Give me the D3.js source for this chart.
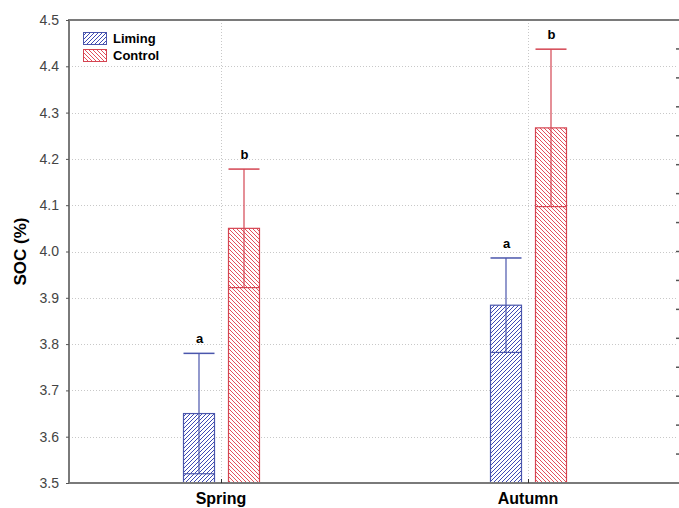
<!DOCTYPE html>
<html>
<head>
<meta charset="utf-8">
<script src="https://cdn.jsdelivr.net/npm/d3@7"></script>
<style>
  body { margin: 0; background: #fff; }
  svg { display: block; font-family: "Liberation Sans", Arial, sans-serif; }
</style>
</head>
<body>
<div id="chart"></div>
<script>
// ---------- data ----------
var seasons = ["Spring", "Autumn"];
var treatments = ["Liming", "Control"];
var means = { Liming: [3.65, 3.884], Control: [4.05, 4.267] };
var errors = { Liming: [0.13, 0.102], Control: [0.128, 0.17] };
var letters = { Liming: ["a", "a"], Control: ["b", "b"] };
var yTicks = [3.5, 3.6, 3.7, 3.8, 3.9, 4.0, 4.1, 4.2, 4.3, 4.4, 4.5];

var colors = { Liming: "#4a56ac", Control: "#d44552" };
var hatchColors = { Liming: "#3f4ab4", Control: "#e4505c" };

var width = 679, height = 508;
var plotLeft = 69, plotTop = 20, plotBottom = 483;

var svg = d3.select("#chart").append("svg")
    .attr("width", width)
    .attr("height", height);

// ---------- hatch patterns (pixel diagonals) ----------
var defs = svg.append("defs");
function hatch(id, color, dir) {
  var p = defs.append("pattern")
      .attr("id", id)
      .attr("patternUnits", "userSpaceOnUse")
      .attr("width", 4).attr("height", 4);
  p.append("rect").attr("width", 4).attr("height", 4).attr("fill", "#fff");
  d3.range(4).forEach(function(k) {
    p.append("rect")
        .attr("x", dir > 0 ? 3 - k : k).attr("y", k)
        .attr("width", 1).attr("height", 1)
        .attr("fill", color)
        .attr("shape-rendering", "crispEdges");
  });
}
hatch("hatchLiming", hatchColors.Liming, 1);
hatch("hatchControl", hatchColors.Control, -1);

// ---------- scales ----------
var y = d3.scaleLinear().domain([3.5, 4.5]).range([plotBottom, plotTop]);
var x = d3.scalePoint().domain(seasons).range([221, 528]);
var barW = 31, barGap = 7;
function barX(t, s) {
  return t === "Liming" ? x(s) - barGap - barW : x(s) + barGap;
}
var yRight = d3.scaleLinear().domain([0, 16]).range([plotTop, plotBottom]);

// ---------- grid ----------
svg.append("g").selectAll("line.hgrid")
    .data(yTicks.slice(1, -1))
  .enter().append("line")
    .attr("x1", plotLeft).attr("x2", 678)
    .attr("y1", function(d) { return Math.round(y(d)) + 0.5; })
    .attr("y2", function(d) { return Math.round(y(d)) + 0.5; })
    .attr("stroke", "#c8c8c8")
    .attr("stroke-dasharray", "1,2");

svg.append("g").selectAll("line.vgrid")
    .data(seasons)
  .enter().append("line")
    .attr("x1", function(d) { return x(d) + 0.5; })
    .attr("x2", function(d) { return x(d) + 0.5; })
    .attr("y1", plotTop).attr("y2", plotBottom)
    .attr("stroke", "#c8c8c8")
    .attr("stroke-dasharray", "1,2");

// ---------- bars ----------
treatments.forEach(function(t) {
  var g = svg.append("g").attr("class", "series");
  seasons.forEach(function(s, i) {
    var bx = barX(t, s), cx = bx + barW / 2;
    var m = means[t][i], e = errors[t][i];
    g.append("rect")
        .attr("x", bx + 0.5).attr("y", y(m))
        .attr("width", barW).attr("height", plotBottom - y(m))
        .attr("fill", "url(#hatch" + t + ")")
        .attr("stroke", colors[t]).attr("stroke-width", 1.2);
    // lower line (mean - SE)
    g.append("line")
        .attr("x1", bx + 0.5).attr("x2", bx + barW + 0.5)
        .attr("y1", y(m - e)).attr("y2", y(m - e))
        .attr("stroke", colors[t]).attr("stroke-width", 1.2);
    // whisker
    g.append("line")
        .attr("x1", cx + 0.5).attr("x2", cx + 0.5)
        .attr("y1", y(m - e)).attr("y2", y(m + e))
        .attr("stroke", colors[t]).attr("stroke-width", 1.2);
    g.append("line")
        .attr("x1", bx + 0.5).attr("x2", bx + barW + 0.5)
        .attr("y1", y(m + e)).attr("y2", y(m + e))
        .attr("stroke", colors[t]).attr("stroke-width", 1.5);
    g.append("text")
        .attr("x", cx + 1).attr("y", y(m + e) - 10)
        .attr("text-anchor", "middle")
        .attr("font-size", "13px").attr("font-weight", "bold")
        .attr("fill", "#000")
        .text(letters[t][i]);
  });
});

// ---------- frame and axes ----------
var frame = svg.append("g").attr("stroke", "#7a7a7a").attr("stroke-width", 2);
frame.append("line").attr("x1", plotLeft).attr("x2", plotLeft).attr("y1", plotTop - 1).attr("y2", plotBottom + 1);
frame.append("line").attr("x1", plotLeft).attr("x2", width).attr("y1", plotTop).attr("y2", plotTop);
frame.append("line").attr("x1", plotLeft).attr("x2", width).attr("y1", plotBottom).attr("y2", plotBottom);

var yAxis = svg.append("g")
    .attr("transform", "translate(" + plotLeft + ",0)")
    .call(d3.axisLeft(y).tickValues(yTicks).tickSize(3).tickPadding(7).tickFormat(d3.format(".1f")));
yAxis.select(".domain").remove();
yAxis.selectAll("line").attr("stroke", "#555");
yAxis.selectAll("text")
    .attr("font-size", "14px").attr("fill", "#444")
    .attr("font-family", "'Liberation Sans', Arial, sans-serif");

// right side ticks (partially cropped axis)
svg.append("g").selectAll("line.rtick")
    .data(d3.range(1, 16))
  .enter().append("line")
    .attr("x1", 676).attr("x2", 679)
    .attr("y1", function(d) { return yRight(d); })
    .attr("y2", function(d) { return yRight(d); })
    .attr("stroke", "#555").attr("stroke-width", 1.5);

// small inside ticks between bars on the x axis
svg.append("g").selectAll("line.xtick")
    .data(seasons)
  .enter().append("line")
    .attr("x1", function(d) { return x(d) + 0.5; })
    .attr("x2", function(d) { return x(d) + 0.5; })
    .attr("y1", plotBottom - 4).attr("y2", plotBottom)
    .attr("stroke", "#333");

svg.append("g").selectAll("text.xlab")
    .data(seasons)
  .enter().append("text")
    .attr("x", function(d) { return x(d); })
    .attr("y", 504)
    .attr("text-anchor", "middle")
    .attr("font-size", "16px").attr("font-weight", "bold")
    .attr("fill", "#000")
    .text(function(d) { return d; });

svg.append("text")
    .attr("transform", "translate(26," + ((plotTop + plotBottom) / 2) + ") rotate(-90)")
    .attr("text-anchor", "middle")
    .attr("font-size", "17px").attr("font-weight", "bold")
    .attr("fill", "#000")
    .text("SOC (%)");

// ---------- legend ----------
var legend = svg.append("g").attr("transform", "translate(83,32)");
treatments.forEach(function(t, i) {
  legend.append("rect")
      .attr("x", 0.5).attr("y", i * 17 + 0.5)
      .attr("width", 23).attr("height", 12)
      .attr("fill", "url(#hatch" + t + ")")
      .attr("stroke", colors[t]).attr("stroke-width", 1);
  legend.append("text")
      .attr("x", 30).attr("y", i * 17 + 11)
      .attr("font-size", "13px").attr("font-weight", "bold")
      .attr("fill", "#000")
      .text(t);
});
</script>
</body>
</html>
